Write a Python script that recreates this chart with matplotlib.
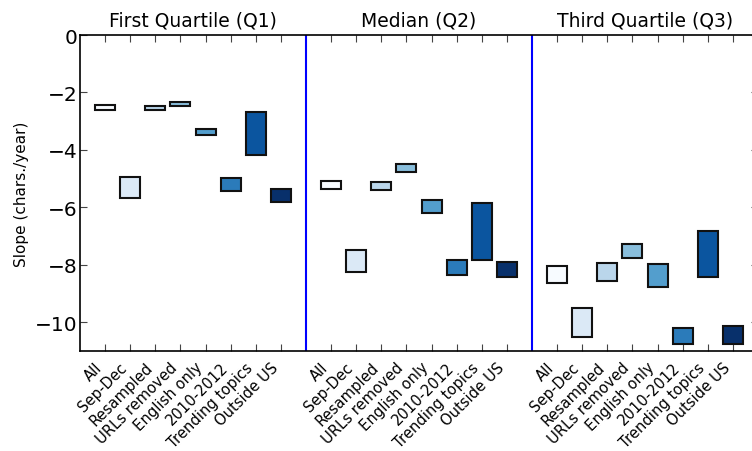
import numpy as np
import matplotlib.pyplot as plt

# Slope ranges (low, high) per subset
subsets = ["All", "Sep-Dec", "Resampled", "URLs removed", "English only",
           "2010-2012", "Trending topics", "Outside US"]
groups = ["First Quartile (Q1)", "Median (Q2)", "Third Quartile (Q3)"]

q1_low = [-2.60, -5.66, -2.62, -2.48, -3.48, -5.43, -4.16, -5.81]
q1_high = [-2.45, -4.95, -2.47, -2.34, -3.27, -4.98, -2.67, -5.35]
q2_low = [-5.35, -8.25, -5.40, -4.77, -6.18, -8.36, -7.84, -8.41]
q2_high = [-5.07, -7.48, -5.12, -4.50, -5.76, -7.82, -5.84, -7.91]
q3_low = [-8.65, -10.50, -8.55, -7.77, -8.76, -10.76, -8.43, -10.76]
q3_high = [-8.03, -9.50, -7.94, -7.28, -7.97, -10.20, -6.82, -10.12]

lows = [q1_low, q2_low, q3_low]
highs = [q1_high, q2_high, q3_high]

colors = plt.cm.Blues(np.linspace(0, 1, len(subsets)))

fig = plt.figure(figsize=(7.52, 4.52), dpi=100)
ax = fig.add_axes([80 / 752, 1 - 352 / 452, 678 / 752, 316 / 452])

n = len(subsets)
xticks = []
xlabels = []
for g in range(len(groups)):
    base = g * (n + 1)
    pos = base + np.arange(1, n + 1)
    lo = np.array(lows[g])
    hi = np.array(highs[g])
    ax.bar(pos, hi - lo, bottom=lo, width=0.8, color=colors,
           edgecolor='#111111', linewidth=1.5, zorder=3)
    xticks.extend(pos)
    xlabels.extend(subsets)
    ax.text(base + (n + 1) / 2, 0.2, groups[g], ha='center', va='bottom',
            fontsize=13.5)
    if g > 0:
        ax.axvline(base, color='blue', linewidth=1.5)

ax.set_xlim(0, 3 * (n + 1))
ax.set_ylim(-11, 0)
ax.set_yticks([0, -2, -4, -6, -8, -10])
ax.set_xticks(xticks)
ax.set_xticklabels(xlabels, rotation=45, ha='right', fontsize=10.6)
ax.tick_params(axis='y', labelsize=14.5, pad=2)
ax.tick_params(axis='x', pad=6)
ax.tick_params(direction='in', top=True, right=True, length=5, width=0.8,
               color='#444444')
ax.set_ylabel("Slope (chars./year)", fontsize=11)

for s in ax.spines.values():
    s.set_linewidth(1.2)

fig.savefig("out.png", dpi=100)
